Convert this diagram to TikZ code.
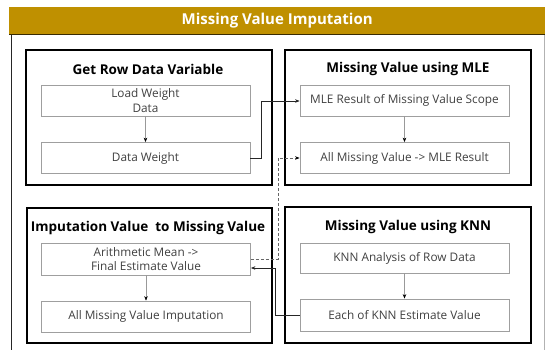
\documentclass[tikz,border=0pt]{standalone}
\usepackage{fontspec}
\setmainfont{Open Sans}
\usetikzlibrary{arrows.meta}
\definecolor{gold}{HTML}{BF9000}
\definecolor{txt}{HTML}{404040}
\tikzset{
  px/.style={x=1pt,y=-1pt},
  group/.style={draw=black,line width=1.1pt,fill=white},
  inbox/.style={draw=gray!75,line width=0.8pt,fill=white,minimum width=209pt,minimum height=31pt,inner sep=0pt,align=center,font=\fontsize{11.8}{14.5}\selectfont,text=txt},
  gtitle/.style={font=\bfseries\fontsize{13.5}{16}\selectfont,text=black},
  link/.style={draw=black!85,line width=0.6pt,-{Stealth[length=4.5pt,width=3.5pt]}},
  vlink/.style={draw=gray!80,line width=0.5pt,-{Stealth[length=4.5pt,width=3.5pt,color=black,fill=black]}},
  dlink/.style={draw=gray!80!black,line width=0.8pt,dash pattern=on 3pt off 2pt,-{Stealth[length=4.5pt,width=3.5pt,color=black,fill=black]}}
}
\begin{document}
\begin{tikzpicture}[px]
\useasboundingbox (0,0) rectangle (547,349);
\fill[white] (0,0) rectangle (547,349);
% outer box
\draw[black!85,line width=0.8pt] (11,360) -- (11,34) -- (544,34);
\draw[gray!60,line width=0.8pt] (544,34) -- (544,360);
% title bar
\node[fill=gold,draw=none,minimum width=536pt,minimum height=27pt,inner sep=0pt,anchor=north west,font=\bfseries\fontsize{15}{17}\selectfont,text=white] (title) at (9,7) {Missing Value Imputation};
\draw[black!70!gold,line width=1pt] (9,34) -- (545,34);
% groups
\draw[group] (26,50) rectangle (272,185);
\draw[group] (285,50) rectangle (531,185);
\draw[group] (27,208) rectangle (272,343);
\draw[group] (285,207) rectangle (531,343);
% group titles
\node[gtitle] (g1) at (148,69) {Get Row Data Variable};
\node[gtitle] (g2) at (408,69) {Missing Value using MLE};
\node[gtitle] (g3) at (148,228) {Imputation Value\ \ to Missing Value};
\node[gtitle] (g4) at (408,227) {Missing Value using KNN};
% inner boxes
\node[inbox] (load) at (145.5,100.5) {Load Weight\\Data};
\node[inbox] (dw) at (145.5,158) {Data Weight};
\node[inbox] (mle) at (404.5,100.5) {MLE Result of Missing Value Scope};
\node[inbox] (allmle) at (404.5,158) {All Missing Value -> MLE Result};
\node[inbox,minimum height=32pt] (arith) at (146,259) {Arithmetic Mean ->\\Final Estimate Value};
\node[inbox] (allimp) at (146,316.5) {All Missing Value Imputation};
\node[inbox,minimum height=30pt] (knn) at (404.5,258) {KNN Analysis of Row Data};
\node[inbox,minimum height=32pt] (each) at (404.5,315) {Each of KNN Estimate Value};
% vertical links
\draw[vlink] (load) -- (dw);
\draw[vlink] (mle) -- (allmle);
\draw[vlink] (arith) -- (allimp);
\draw[vlink] (knn) -- (each);
% cross links
\coordinate (c1) at (261,158);
\coordinate (c2) at (261,101);
\draw[link] (dw.east) -- (c1) -- (c2) -- (mle.west |- c2);
\coordinate (d1) at (278,259);
\coordinate (d2) at (278,158);
\draw[dlink] (arith.east) -- (d1) -- (d2) -- (allmle.west);
\coordinate (e1) at (275,315);
\coordinate (e2) at (275,268);
\draw[link] (each.west) -- (e1) -- (e2) -- (arith.east |- e2);
\end{tikzpicture}
\end{document}
